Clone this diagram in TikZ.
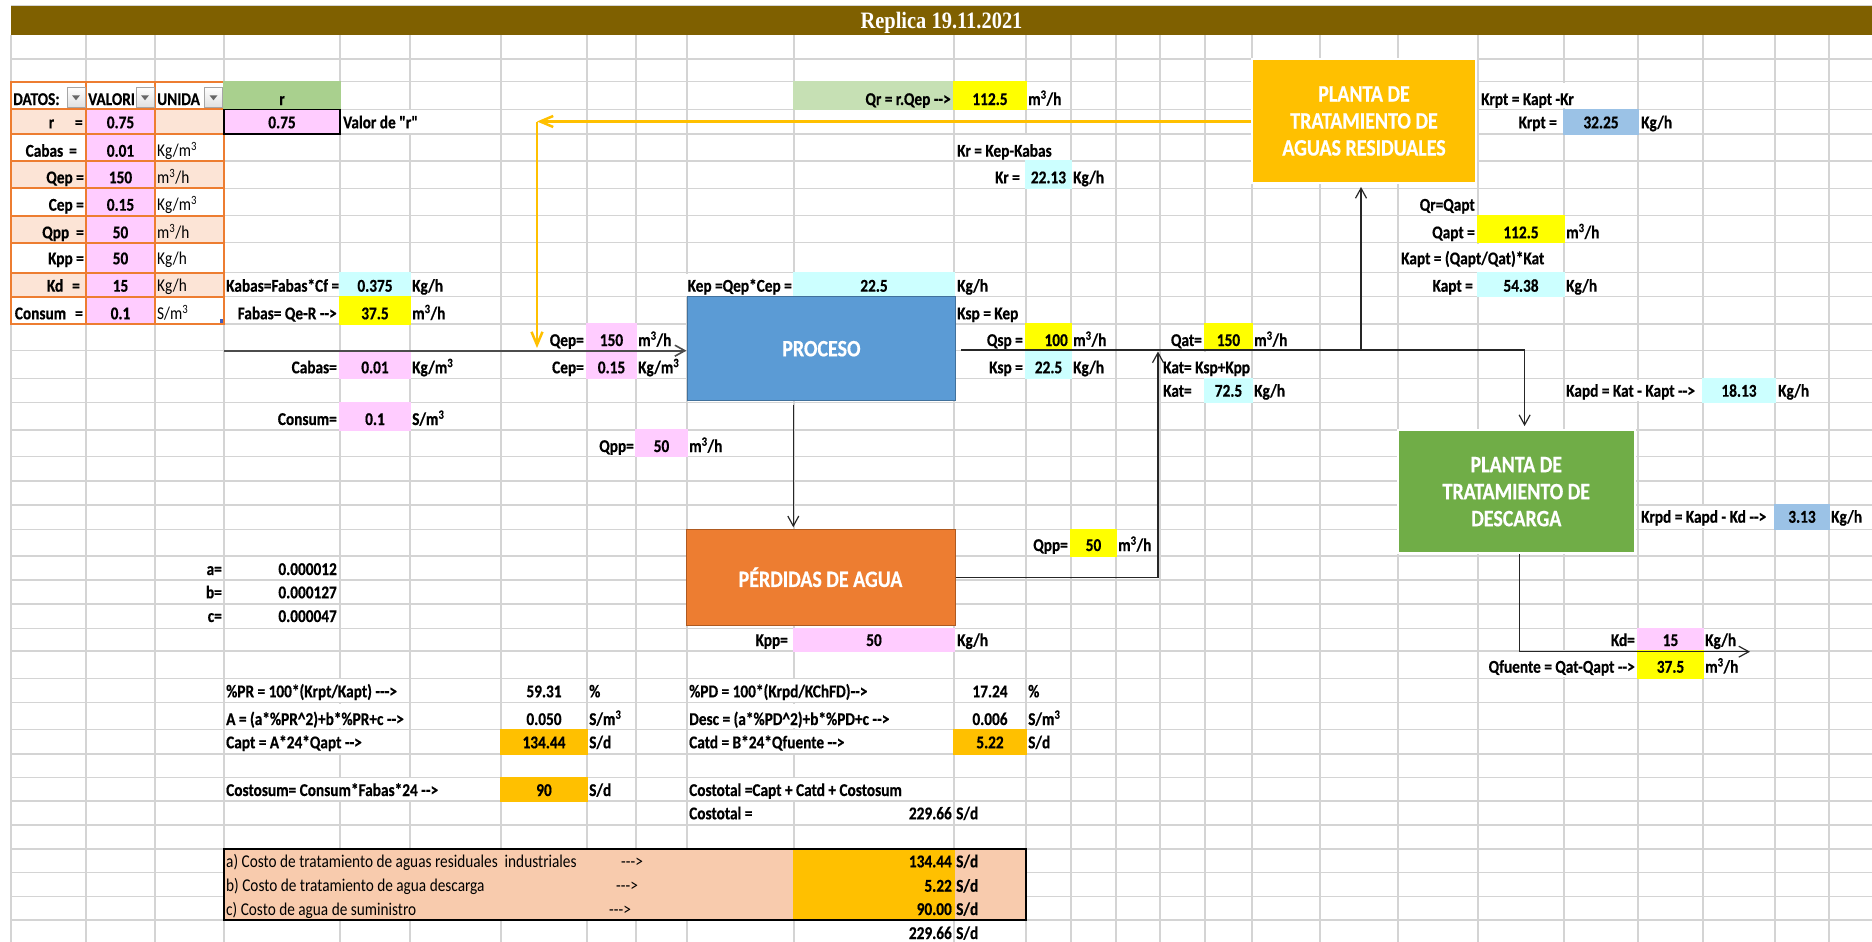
\documentclass[tikz,border=0pt]{standalone}
\usepackage{fontspec}
\setmainfont{Carlito}[Ligatures=TeXOff, FakeStretch=0.85, BoldFeatures={FakeBold=0.5}]
\newfontfamily\titlefont{Liberation Serif}[Ligatures=TeXOff, FakeStretch=0.87]
\usetikzlibrary{arrows.meta, positioning, calc}
\definecolor{titlebrown}{HTML}{7F6000}
\definecolor{gridgray}{HTML}{D4D4D4}
\definecolor{cellpink}{HTML}{FFCCFF}
\definecolor{rowpeach}{HTML}{FCE4D6}
\definecolor{tblorange}{HTML}{ED7D31}
\definecolor{hdrgreen}{HTML}{A9D08E}
\definecolor{formgreen}{HTML}{C6E0B4}
\definecolor{cellyellow}{HTML}{FFFF00}
\definecolor{cellcyan}{HTML}{CCFFFF}
\definecolor{cellblue}{HTML}{9BC2E6}
\definecolor{boxgold}{HTML}{FFC000}
\definecolor{sumpeach}{HTML}{F8CBAD}
\definecolor{procblue}{HTML}{5B9BD5}
\definecolor{procedge}{HTML}{41719C}
\definecolor{perdorange}{HTML}{ED7D31}
\definecolor{perdedge}{HTML}{AE5A21}
\definecolor{descgreen}{HTML}{70AD47}
\definecolor{handleblue}{HTML}{3F5FBF}
\newcommand{\mch}{m\textsuperscript{3}/h}
\newcommand{\kgm}{Kg/m\textsuperscript{3}}
\newcommand{\smc}{S/m\textsuperscript{3}}
\tikzset{
    gridln/.style={draw=gridgray, line width=1.5pt},
    tblborder/.style={draw=tblorange, line width=2pt, line cap=rect},
    cellbg/.style={fill=#1, draw=#1, line width=1.5pt},
    mask/.style={fill=white},
    txt/.style={inner sep=0pt, font=\fontsize{18}{21}\selectfont\bfseries},
    txtreg/.style={inner sep=0pt, font=\fontsize{18}{21}\selectfont},
    lt/.style={txt, anchor=base west},
    rt/.style={txt, anchor=base east},
    ct/.style={txt, anchor=base},
    ltr/.style={txtreg, anchor=base west},
    titletxt/.style={inner sep=0pt, anchor=base, text=white, font=\titlefont\bfseries\fontsize{23.5}{26}\selectfont},
    unitbox/.style={rectangle, draw=white, line width=2pt, text=white, align=center, inner sep=0pt, font=\fontsize{23.5}{27}\selectfont\bfseries},
    ddbox/.style={draw=black!35, top color=white, bottom color=black!12, line width=0.8pt},
    flow/.style={-{Straight Barb[length=10pt, width=11pt]}, line width=1.2pt, draw=black!85},
    feed/.style={flow, line width=1.6pt, draw=black!70},
    recycle/.style={-{Straight Barb[length=13pt, width=11pt]}, line width=2.5pt, draw=boxgold}
}

\begin{document}
\begin{tikzpicture}[x=1pt, y=-1pt]
\useasboundingbox (0,0) rectangle (1872,942);
\fill[white] (0,0) rectangle (1872,942);

% hoja de calculo
\draw[gridln] (11,5.5) -- (1872,5.5);
\foreach \gx in {11,86,155,224,340,410,501,587,636,687,794,954,1026,1071,1116,1160,1205,1252,1320,1398,1478,1564,1638,1703,1775,1829}
    \draw[gridln] (\gx,34.7) -- (\gx,942);
\foreach \gy in {59,81.7,109.3,134,161,188.3,215.7,242.7,272.7,296.7,324,350.7,378.7,402.3,430,456.7,481,505,529.3,556,580,604,628.3,651,678.3,702.7,729.3,754,777.3,801,825,849,872.7,896.7,920}
    \draw[gridln] (11,\gy) -- (1872,\gy);
\fill[titlebrown] (11,6) rectangle (1872,34.7);
\node[titletxt] (title) at (941.5,28.3) {Replica 19.11.2021};

% texto que desborda la celda
\fill[mask] (1479,82.7) rectangle (1637,108.3);
\fill[mask] (341,110.3) rectangle (500,133);
\fill[mask] (955,135) rectangle (1070,160);
\fill[mask] (1399,243.7) rectangle (1563,271.7);
\fill[mask] (637,273.7) rectangle (793,295.7);
\fill[mask] (1161,351.7) rectangle (1251,377.7);
\fill[mask] (1565,379.7) rectangle (1702,401.3);
\fill[mask] (1639,506) rectangle (1774,528.3);
\fill[mask] (1479,652) rectangle (1637,677.3);
\foreach \ya/\yb in {679.3/701.7, 703.7/728.3, 730.3/753} {
    \fill[mask] (225,\ya) rectangle (409,\yb);
    \fill[mask] (688,\ya) rectangle (953,\yb);
}
\fill[mask] (225,778.3) rectangle (500,800);
\fill[mask] (688,778.3) rectangle (953,800);

% tabla DATOS
\fill[white] (11,81.7) rectangle (224,324);
\path[cellbg=cellpink] (86,109.3) rectangle (155,324);
\foreach \ya/\yb in {109.3/134, 161/188.3, 215.7/242.7, 272.7/296.7} {
    \path[cellbg=rowpeach] (11,\ya) rectangle (86,\yb);
    \path[cellbg=rowpeach] (155,\ya) rectangle (224,\yb);
}
\foreach \tx in {11,86,155,224}
    \draw[tblborder] (\tx,81.7) -- (\tx,324);
\foreach \ty in {81.7,109.3,134,161,188.3,215.7,242.7,272.7,296.7,324}
    \draw[tblborder] (11,\ty) -- (224,\ty);
\foreach \bx in {67,136,204.5} {
    \draw[ddbox] (\bx,87.3) rectangle ++(18,20);
    \fill[black!60] (\bx,87.3) ++(5,8) -- ++(8,0) -- ++(-4,5) -- cycle;
}
\fill[handleblue] (219.5,318.5) rectangle (223,322.5);

% celdas de color
\path[cellbg=hdrgreen] (224,81.7) rectangle (340,109.3);
\path[cellbg=cellpink] (224,109.3) rectangle (340,134);
\draw[black, line width=1.5pt] (224,109.3) rectangle (340,134);
\path[cellbg=formgreen] (794,81.7) rectangle (954,109.3);
\path[cellbg=cellyellow] (954,81.7) rectangle (1026,109.3);
\path[cellbg=cellblue] (1564,109.3) rectangle (1638,134);
\path[cellbg=cellcyan] (1026,161) rectangle (1071,188.3);
\path[cellbg=cellyellow] (1478,215.7) rectangle (1564,242.7);
\path[cellbg=cellcyan] (340,272.7) rectangle (410,296.7);
\path[cellbg=cellcyan] (794,272.7) rectangle (954,296.7);
\path[cellbg=cellcyan] (1478,272.7) rectangle (1564,296.7);
\path[cellbg=cellyellow] (340,296.7) rectangle (410,324);
\path[cellbg=cellpink] (587,324) rectangle (636,350.7);
\path[cellbg=cellyellow] (1026,324) rectangle (1071,350.7);
\path[cellbg=cellyellow] (1205,324) rectangle (1252,350.7);
\path[cellbg=cellpink] (340,350.7) rectangle (410,378.7);
\path[cellbg=cellpink] (587,350.7) rectangle (636,378.7);
\path[cellbg=cellcyan] (1026,350.7) rectangle (1071,378.7);
\path[cellbg=cellcyan] (1205,378.7) rectangle (1252,402.3);
\path[cellbg=cellcyan] (1703,378.7) rectangle (1775,402.3);
\path[cellbg=cellpink] (340,402.3) rectangle (410,430);
\path[cellbg=cellpink] (636,430) rectangle (687,456.7);
\path[cellbg=cellblue] (1775,505) rectangle (1829,529.3);
\path[cellbg=cellyellow] (1071,529.3) rectangle (1116,556);
\path[cellbg=cellpink] (794,628.3) rectangle (954,651);
\path[cellbg=cellpink] (1638,628.3) rectangle (1703,651);
\path[cellbg=cellyellow] (1638,651) rectangle (1703,678.3);
\path[cellbg=boxgold] (501,729.3) rectangle (587,754);
\path[cellbg=boxgold] (954,729.3) rectangle (1026,754);
\path[cellbg=boxgold] (501,777.3) rectangle (587,801);
\path[cellbg=sumpeach] (224,849) rectangle (1026,920);
\path[cellbg=boxgold] (794,849) rectangle (954,920);
\draw[black, line width=2.5pt] (224,849) rectangle (1026,920);

% unidades
\node[unitbox, fill=boxgold, minimum width=224pt, minimum height=123.4pt] (aguas) at (1364,121) {PLANTA DE\\TRATAMIENTO DE\\AGUAS RESIDUALES};
\node[unitbox, fill=procblue, draw=procedge, line width=1pt, minimum width=268.8pt, minimum height=104pt] (proc) at (821.4,348.7) {PROCESO};
\node[unitbox, fill=perdorange, draw=perdedge, line width=1pt, minimum width=269pt, minimum height=95.7pt] (perd) at (820.5,577.2) {PÉRDIDAS DE AGUA};
\node[unitbox, fill=descgreen, minimum width=237.4pt, minimum height=123.3pt] (desc) at (1516.3,491.7) {PLANTA DE\\TRATAMIENTO DE\\DESCARGA};

% corrientes
\coordinate (feedin) at (224,350.7);
\draw[feed] (feedin) -- (proc.west |- feedin);
\coordinate (rturn) at (537,121.5);
\coordinate (rmix) at (537,348);
\draw[recycle] (aguas.west |- rturn) -- (rturn);
\draw[recycle] (rturn) -- (rmix);
\coordinate (pdown) at (793.3,0);
\draw[flow, shorten <=3.3pt, shorten >=1.6pt] (proc.south -| pdown) -- (perd.north -| pdown);
\coordinate (spline) at (1524.6,350);
\draw[flow, shorten <=5pt, shorten >=3pt] (proc.east |- spline) -| (desc.north -| spline);
\coordinate (tojunc) at (1361,350);
\draw[flow, shorten >=3.3pt] (tojunc) -- (aguas.south -| tojunc);
\coordinate (lossret) at (1158,351.5);
\draw[flow] (perd.east) -| (lossret);
\coordinate (dsx) at (1519.8,0);
\coordinate (qfout) at (1750,651.7);
\draw[flow] (desc.south -| dsx) |- (qfout);

% textos
\node[lt] (hdatos) at (13,105) {DATOS:};
\node[lt] (hvalor) at (88,105) {VALORI};
\node[lt] (hunid) at (157,105) {UNIDA};
\node[ct] (hr) at (282,105) {r};
\node[rt] (qrform) at (951,105) {Qr = r.Qep -->};
\node[ct] (vqr) at (990,105) {112.5};
\node[lt] (uqr) at (1028,105) {\mch};
\node[lt] (krptform) at (1481,105) {Krpt = Kapt -Kr};

\node[rt] (lr) at (83,128.3) {r\hspace{21pt}=};
\node[ct] (vr) at (120.5,128.3) {0.75};
\node[ct] (rval) at (282,128.3) {0.75};
\node[lt] (rnote) at (343,128.3) {Valor de "r"};
\node[rt] (lkrpt) at (1557,128.3) {Krpt =};
\node[ct] (vkrpt) at (1601,128.3) {32.25};
\node[lt] (ukrpt) at (1641,128.3) {Kg/h};

\node[rt] (lcabas) at (77,156.7) {Cabas\hspace{6pt}=};
\node[ct] (vcabas) at (120.5,156.7) {0.01};
\node[ltr] (ucabas) at (157,156.7) {\kgm};
\node[lt] (krform) at (957,156.7) {Kr = Kep-Kabas};

\node[rt] (lqep) at (84,183.3) {Qep =};
\node[ct] (vqep) at (120.5,183.3) {150};
\node[ltr] (uqep) at (157,183.3) {\mch};
\node[rt] (lkr) at (1020,183.3) {Kr =};
\node[ct] (vkr) at (1048.5,183.3) {22.13};
\node[lt] (ukr) at (1073,183.3) {Kg/h};

\node[rt] (lcep) at (84,210.7) {Cep =};
\node[ct] (vcep) at (120.5,210.7) {0.15};
\node[ltr] (ucep) at (157,210.7) {\kgm};
\node[rt] (qrqapt) at (1475,210.7) {Qr=Qapt};

\node[rt] (lqpp) at (84,238.3) {Qpp\hspace{7pt}=};
\node[ct] (vqpp) at (120.5,238.3) {50};
\node[ltr] (uqpp) at (157,238.3) {\mch};
\node[rt] (lqapt) at (1475,238.3) {Qapt =};
\node[ct] (vqapt) at (1521,238.3) {112.5};
\node[lt] (uqapt) at (1566,238.3) {\mch};

\node[rt] (lkpp) at (84,264.3) {Kpp =};
\node[ct] (vkpp) at (120.5,264.3) {50};
\node[ltr] (ukpp) at (157,264.3) {Kg/h};
\node[lt] (kaptform) at (1401,264.3) {Kapt = (Qapt/Qat)*Kat};

\node[rt] (lkd) at (80,291.7) {Kd\hspace{9pt}=};
\node[ct] (vkd) at (120.5,291.7) {15};
\node[ltr] (ukd) at (157,291.7) {Kg/h};
\node[lt] (kabasform) at (226,291.7) {Kabas=Fabas*Cf =};
\node[ct] (vkabas) at (375,291.7) {0.375};
\node[lt] (ukabas) at (412,291.7) {Kg/h};
\node[rt] (kepform) at (792,291.7) {Kep =Qep*Cep =};
\node[ct] (vkep) at (874,291.7) {22.5};
\node[lt] (ukep) at (957,291.7) {Kg/h};
\node[rt] (lkapt) at (1473,291.7) {Kapt =};
\node[ct] (vkapt) at (1521,291.7) {54.38};
\node[lt] (ukapt) at (1566,291.7) {Kg/h};

\node[rt] (lconsum) at (83,319.3) {Consum\hspace{9pt}=};
\node[ct] (vconsum) at (120.5,319.3) {0.1};
\node[ltr] (uconsum) at (157,319.3) {\smc};
\node[rt] (fabasform) at (337,319.3) {Fabas= Qe-R -->};
\node[ct] (vfabas) at (375,319.3) {37.5};
\node[lt] (ufabas) at (412,319.3) {\mch};
\node[lt] (kspform) at (957,319.3) {Ksp = Kep};

\node[rt] (lqep2) at (584,346) {Qep=};
\node[ct] (vqep2) at (611.5,346) {150};
\node[lt] (uqep2) at (638,346) {\mch};
\node[rt] (lqsp) at (1023,346) {Qsp =};
\node[rt] (vqsp) at (1068,346) {100};
\node[lt] (uqsp) at (1073,346) {\mch};
\node[rt] (lqat) at (1202,346) {Qat=};
\node[ct] (vqat) at (1228.5,346) {150};
\node[lt] (uqat) at (1254,346) {\mch};

\node[rt] (lcabas2) at (337,373.3) {Cabas=};
\node[ct] (vcabas2) at (375,373.3) {0.01};
\node[lt] (ucabas2) at (412,373.3) {\kgm};
\node[rt] (lcep2) at (584,373.3) {Cep=};
\node[ct] (vcep2) at (611.5,373.3) {0.15};
\node[lt] (ucep2) at (638,373.3) {\kgm};
\node[rt] (lksp) at (1023,373.3) {Ksp =};
\node[ct] (vksp) at (1048.5,373.3) {22.5};
\node[lt] (uksp) at (1073,373.3) {Kg/h};
\node[lt] (katform) at (1163,373.3) {Kat= Ksp+Kpp};

\node[lt] (lkat) at (1163,396.7) {Kat=};
\node[ct] (vkat) at (1228.5,396.7) {72.5};
\node[lt] (ukat) at (1254,396.7) {Kg/h};
\node[lt] (kapdform) at (1566,396.7) {Kapd = Kat - Kapt -->};
\node[ct] (vkapd) at (1739,396.7) {18.13};
\node[lt] (ukapd) at (1778,396.7) {Kg/h};

\node[rt] (lconsum2) at (337,425) {Consum=};
\node[ct] (vconsum2) at (375,425) {0.1};
\node[lt] (uconsum2) at (412,425) {\smc};

\node[rt] (lqpp2) at (634,452) {Qpp=};
\node[ct] (vqpp2) at (661.5,452) {50};
\node[lt] (uqpp2) at (689,452) {\mch};

\node[lt] (krpdform) at (1641,522.7) {Krpd = Kapd - Kd -->};
\node[ct] (vkrpd) at (1802,522.7) {3.13};
\node[lt] (ukrpd) at (1831,522.7) {Kg/h};

\node[rt] (lqpp3) at (1068,551) {Qpp=};
\node[ct] (vqpp3) at (1093.5,551) {50};
\node[lt] (uqpp3) at (1118,551) {\mch};

\node[rt] (lcoefa) at (222,575) {a=};
\node[rt] (vcoefa) at (337,575) {0.000012};
\node[rt] (lcoefb) at (222,598.3) {b=};
\node[rt] (vcoefb) at (337,598.3) {0.000127};
\node[rt] (lcoefc) at (222,622) {c=};
\node[rt] (vcoefc) at (337,622) {0.000047};

\node[rt] (lkpp2) at (788,646) {Kpp=};
\node[ct] (vkpp2) at (874,646) {50};
\node[lt] (ukpp2) at (957,646) {Kg/h};
\node[rt] (lkd2) at (1635,646) {Kd=};
\node[ct] (vkd2) at (1670.5,646) {15};
\node[lt] (ukd2) at (1705,646) {Kg/h};

\node[rt] (qfuenteform) at (1635,672.7) {Qfuente = Qat-Qapt -->};
\node[ct] (vqfuente) at (1670.5,672.7) {37.5};
\node[lt] (uqfuente) at (1705,672.7) {\mch};

\node[lt] (prform) at (226,697.3) {\%PR = 100*(Krpt/Kapt) --->};
\node[ct] (vpr) at (544,697.3) {59.31};
\node[lt] (upr) at (589,697.3) {\%};
\node[lt] (pdform) at (689,697.3) {\%PD = 100*(Krpd/KChFD)-->};
\node[ct] (vpd) at (990,697.3) {17.24};
\node[lt] (upd) at (1028,697.3) {\%};

\node[lt] (aform) at (226,725) {A = (a*\%PR\textasciicircum 2)+b*\%PR+c -->};
\node[ct] (vaform) at (544,725) {0.050};
\node[lt] (uaform) at (589,725) {\smc};
\node[lt] (descform) at (689,725) {Desc = (a*\%PD\textasciicircum 2)+b*\%PD+c -->};
\node[ct] (vdesc) at (990,725) {0.006};
\node[lt] (udesc) at (1028,725) {\smc};

\node[lt] (captform) at (226,748.3) {Capt = A*24*Qapt -->};
\node[ct] (vcapt) at (544,748.3) {134.44};
\node[lt] (ucapt) at (589,748.3) {S/d};
\node[lt] (catdform) at (689,748.3) {Catd = B*24*Qfuente -->};
\node[ct] (vcatd) at (990,748.3) {5.22};
\node[lt] (ucatd) at (1028,748.3) {S/d};

\node[lt] (costsumform) at (226,796) {Costosum= Consum*Fabas*24 -->};
\node[ct] (vcostsum) at (544,796) {90};
\node[lt] (ucostsum) at (589,796) {S/d};
\node[lt] (costtotform) at (689,796) {Costotal =Capt + Catd + Costosum};

\node[lt] (lcosttot) at (689,819.3) {Costotal =};
\node[rt] (vcosttot) at (952,819.3) {229.66};
\node[lt] (ucosttot) at (956,819.3) {S/d};

% resumen de costos
\node[ltr] (suma) at (226,867.3) {a) Costo de tratamiento de aguas residuales\ \ industriales};
\node[ltr] (arrsuma) at (621,867.3) {--->};
\node[rt] (vsuma) at (952,867.3) {134.44};
\node[lt] (usuma) at (956,867.3) {S/d};
\node[ltr] (sumb) at (226,891.7) {b) Costo de tratamiento de agua descarga};
\node[ltr] (arrsumb) at (616,891.7) {--->};
\node[rt] (vsumb) at (952,891.7) {5.22};
\node[lt] (usumb) at (956,891.7) {S/d};
\node[ltr] (sumc) at (226,915) {c) Costo de agua de suministro};
\node[ltr] (arrsumc) at (609,915) {--->};
\node[rt] (vsumc) at (952,915) {90.00};
\node[lt] (usumc) at (956,915) {S/d};
\node[rt] (vtotal) at (952,939) {229.66};
\node[lt] (utotal) at (956,939) {S/d};
\end{tikzpicture}
\end{document}
